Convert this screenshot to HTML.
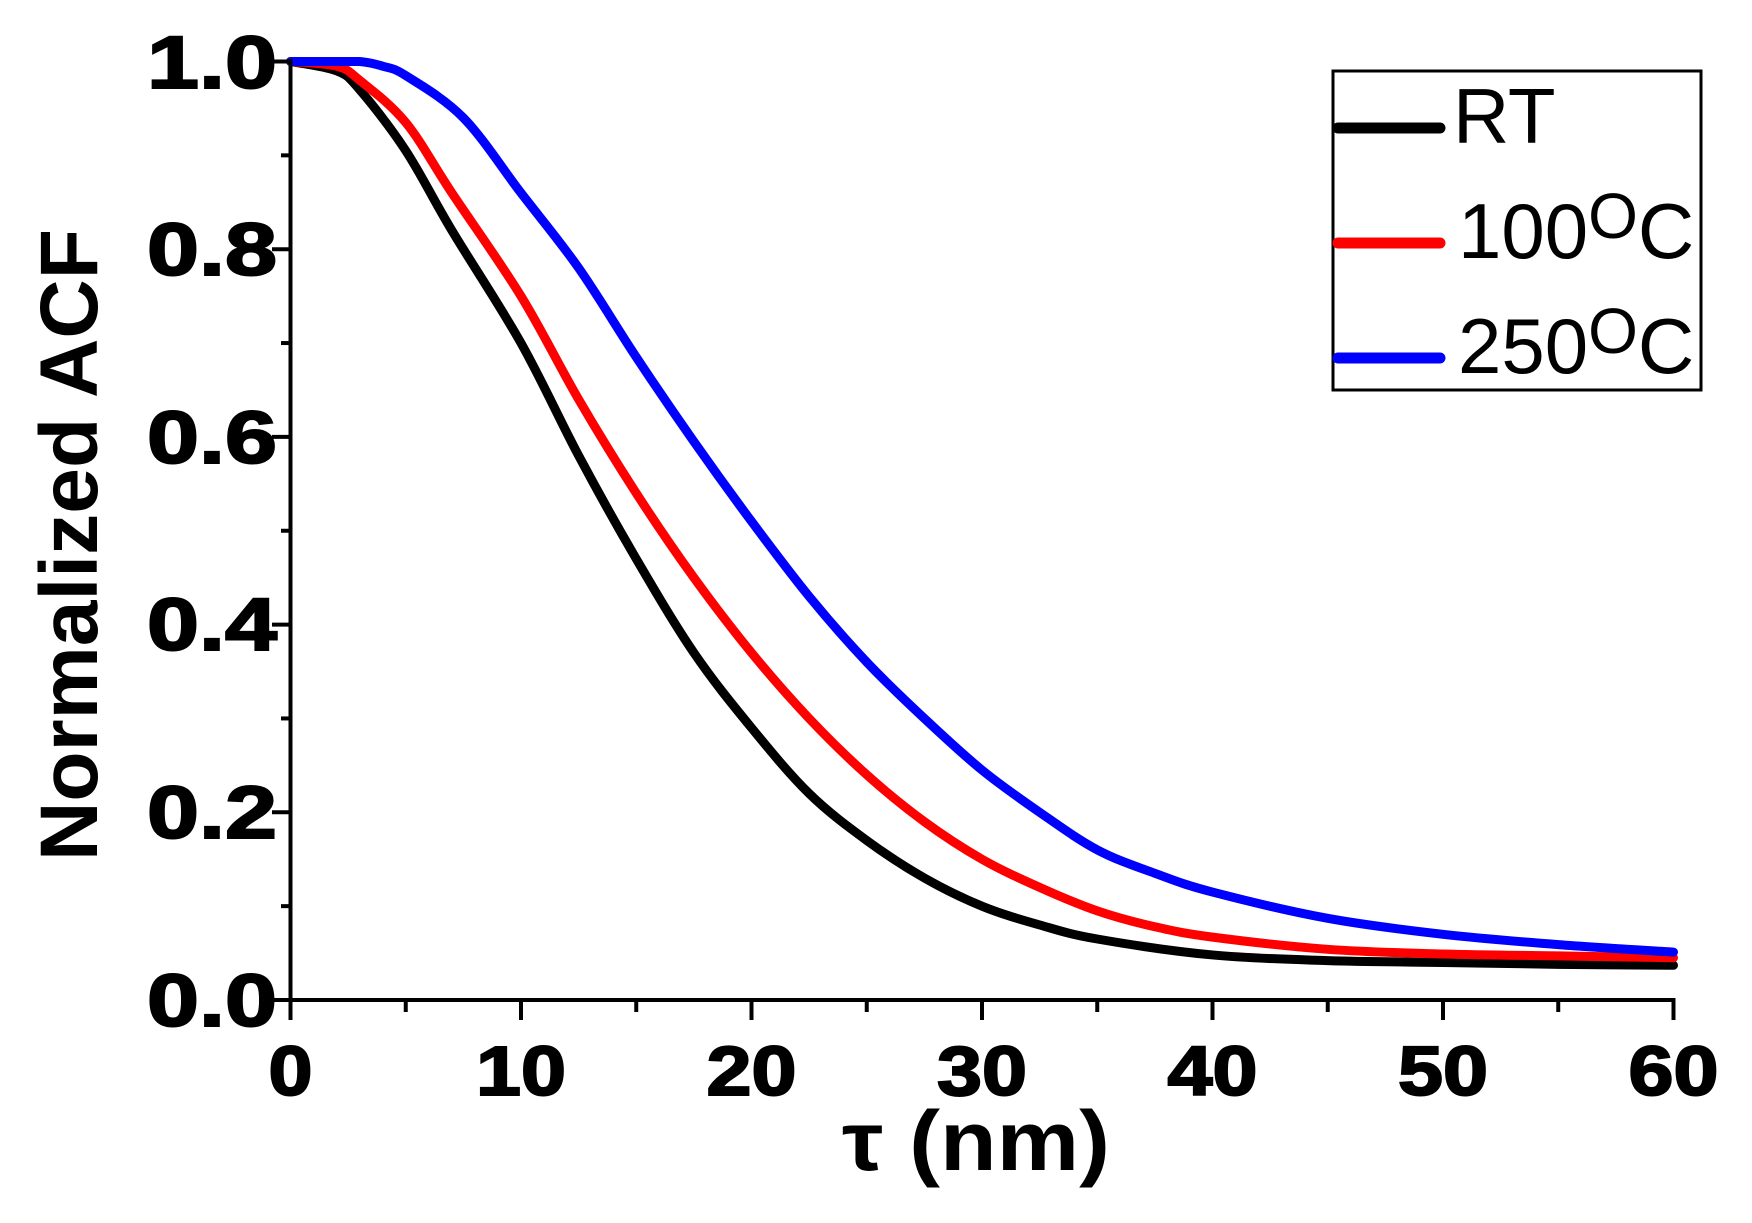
<!DOCTYPE html>
<html><head><meta charset="utf-8"><style>
html,body{margin:0;padding:0;background:#fff}
svg{display:block}
text{font-family:"Liberation Sans",Arial,sans-serif}
</style></head><body>
<svg id="s" width="1752" height="1223" viewBox="0 0 1752 1223" xmlns="http://www.w3.org/2000/svg">
<g id="curves" fill="none" stroke-width="9" stroke-linejoin="round" stroke-linecap="round"></g>
<g stroke="#000" stroke-width="4" fill="none">
<line x1="290.5" y1="59" x2="290.5" y2="1002"/>
<line x1="270" y1="1000" x2="1675.5" y2="1000"/>
<g id="ticks"></g>
</g>
<g font-weight="bold" font-size="74" text-anchor="end" fill="#000" stroke="#000" stroke-width="2">
<text x="277" y="1026" textLength="130" lengthAdjust="spacingAndGlyphs">0.0</text>
<text x="277" y="838" textLength="130" lengthAdjust="spacingAndGlyphs">0.2</text>
<text x="277" y="650" textLength="130" lengthAdjust="spacingAndGlyphs">0.4</text>
<text x="277" y="463" textLength="130" lengthAdjust="spacingAndGlyphs">0.6</text>
<text x="277" y="275" textLength="130" lengthAdjust="spacingAndGlyphs">0.8</text>
<text x="277" y="88" textLength="130" lengthAdjust="spacingAndGlyphs">1.0</text>
</g>
<g font-weight="bold" font-size="70" text-anchor="middle" fill="#000" stroke="#000" stroke-width="2">
<text x="290.5" y="1095" textLength="44" lengthAdjust="spacingAndGlyphs">0</text>
<text x="521" y="1095" textLength="90" lengthAdjust="spacingAndGlyphs">10</text>
<text x="751.5" y="1095" textLength="90" lengthAdjust="spacingAndGlyphs">20</text>
<text x="982" y="1095" textLength="90" lengthAdjust="spacingAndGlyphs">30</text>
<text x="1212.5" y="1095" textLength="90" lengthAdjust="spacingAndGlyphs">40</text>
<text x="1443" y="1095" textLength="90" lengthAdjust="spacingAndGlyphs">50</text>
<text x="1673.5" y="1095" textLength="90" lengthAdjust="spacingAndGlyphs">60</text>
</g>
<text x="976" y="1170" font-weight="bold" font-size="84" text-anchor="middle" font-family="'Liberation Serif',serif" textLength="268" lengthAdjust="spacingAndGlyphs">τ <tspan font-family="'Liberation Sans',sans-serif">(nm)</tspan></text>
<text transform="translate(97,545) rotate(-90)" font-weight="bold" font-size="82" text-anchor="middle" textLength="632" lengthAdjust="spacingAndGlyphs">Normalized ACF</text>
<rect x="1333" y="71" width="368" height="319" fill="none" stroke="#000" stroke-width="3"/>
<g stroke-width="11" stroke-linecap="round">
<line x1="1338" y1="128" x2="1440" y2="128" stroke="#000"/>
<line x1="1338" y1="243" x2="1440" y2="243" stroke="#f00"/>
<line x1="1338" y1="358" x2="1440" y2="358" stroke="#00f"/>
</g>
<g font-size="78" fill="#000">
<text x="1453" y="143">RT</text>
<text x="1458" y="258">100<tspan font-size="64" dy="-20">O</tspan><tspan dy="20">C</tspan></text>
<text x="1458" y="373">250<tspan font-size="64" dy="-20">O</tspan><tspan dy="20">C</tspan></text>
</g>
</svg>
<script>
const X=t=>290.5+t*23.05, Y=v=>1000-v*938.5;
const data={
"#000":[[0,1],[2,0.99],[3,0.97],[5,0.905],[7,0.82],[10,0.70],[12.5,0.58],[15,0.47],[17.5,0.37],[20,0.29],[22.5,0.22],[25,0.17],[27.5,0.13],[30,0.10],[32.5,0.08],[35,0.065],[40,0.048],[45,0.042],[50,0.04],[55,0.038],[60,0.037]],
"#f00":[[0,1],[2,0.995],[3,0.98],[5,0.935],[7,0.86],[10,0.75],[12.5,0.64],[15,0.54],[17.5,0.45],[20,0.37],[22.5,0.30],[25,0.24],[27.5,0.19],[30,0.15],[32.5,0.12],[35,0.095],[37.5,0.078],[40,0.067],[45,0.054],[50,0.049],[55,0.047],[60,0.045]],
"#00f":[[0,1],[1.5,1],[3,1],[4,0.995],[5,0.985],[7.5,0.94],[10,0.86],[12.5,0.78],[15,0.685],[17.5,0.595],[20,0.51],[22.5,0.43],[25,0.36],[27.5,0.30],[30,0.245],[32.5,0.2],[35,0.16],[37.5,0.135],[40,0.115],[45,0.087],[50,0.07],[55,0.059],[60,0.051]]};
let g=document.getElementById('curves');
for(const c in data){const p=data[c].map(([t,v])=>[X(t),Y(v)]);let d=`M${p[0][0]},${p[0][1]}`;
for(let i=0;i<p.length-1;i++){const p0=p[i-1]||p[i],p1=p[i],p2=p[i+1],p3=p[i+2]||p2;
let c1y=p1[1]+(p2[1]-p0[1])/6,c2y=p2[1]-(p3[1]-p1[1])/6;c1y=Math.max(c1y,Y(1));c2y=Math.max(c2y,Y(1));
d+=` C${p1[0]+(p2[0]-p0[0])/6},${c1y} ${p2[0]-(p3[0]-p1[0])/6},${c2y} ${p2[0]},${p2[1]}`;}
const e=document.createElementNS('http://www.w3.org/2000/svg','path');e.setAttribute('d',d);e.setAttribute('stroke',c);g.appendChild(e);}
let tk=document.getElementById('ticks'),s='';
for(let i=0;i<=12;i++){const x=X(i*5);s+=`<line x1="${x}" y1="1000" x2="${x}" y2="${i%2?1012:1020}"/>`;}
for(let i=0;i<=10;i++){const y=Y(i*0.1);s+=`<line x1="290.5" y1="${y}" x2="${i%2?281:272}" y2="${y}"/>`;}
tk.innerHTML=s;
</script>
</body></html>
